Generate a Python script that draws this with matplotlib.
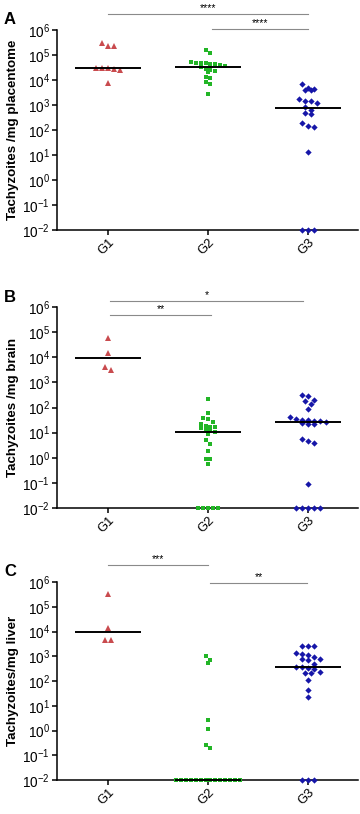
import matplotlib
matplotlib.use("Agg")
import matplotlib.pyplot as plt
import numpy as np
from matplotlib.ticker import NullLocator, LogLocator

plt.rcParams["font.family"] = ["Liberation Sans", "DejaVu Sans"]

groups = ["G1", "G2", "G3"]
floor_value = 1e-2  # undetected samples (0) are drawn on the axis floor

# tachyzoites per mg (0 = not detected)
placentome_g1 = [2.95e5, 2.34e5, 2.29e5, 3.09e4, 3.09e4, 2.95e4, 2.69e4, 2.51e4, 7.4e3]
placentome_g2 = [1.6e5, 1.2e5, 5.1e4, 5.0e4, 4.7e4, 4.6e4, 4.4e4, 4.2e4, 4.0e4, 3.5e4,
                 3.2e4, 2.8e4, 2.5e4, 2.2e4, 2.0e4, 1.3e4, 1.25e4, 8.0e3, 7.0e3, 2.7e3]
placentome_g3 = [6.8e3, 4.9e3, 4.3e3, 4.0e3, 4.0e3, 1.7e3, 1.5e3, 1.5e3, 1.2e3, 850,
                 630, 470, 430, 190, 145, 135, 13, 0, 0, 0]

brain_g1 = [6.0e4, 1.5e4, 4.1e3, 3.1e3]
brain_g2 = [210, 62, 37, 34, 26, 23, 18, 17, 16, 15, 14, 13, 11, 8.5, 5.0, 3.4, 1.9,
            0.93, 0.87, 0.56, 0, 0, 0, 0, 0]
brain_g3 = [310, 295, 190, 180, 140, 91, 43, 34, 33, 32, 30, 29, 27, 25, 23, 23, 5.4,
            4.6, 3.9, 0.091, 0, 0, 0, 0, 0]

liver_g1 = [3.2e5, 1.45e4, 4.7e3, 4.6e3]
liver_g2 = [1000, 680, 540, 2.6, 1.2, 0.25, 0.2] + [0] * 14
liver_g3 = [2500, 2500, 2500, 1300, 1200, 1100, 930, 810, 740, 680, 470, 380, 355, 320,
            300, 230, 215, 205, 105, 42, 23, 0, 0, 0]

# significance comparisons: (group a, group b, label)
placentome_sig = [(0, 2, "****"), (1, 2, "****")]
brain_sig = [(0, 2, "*"), (0, 1, "**")]
liver_sig = [(0, 1, "***"), (1, 2, "**")]

panels = [
    ("A", "Tachyzoites /mg placentome", [placentome_g1, placentome_g2, placentome_g3], placentome_sig),
    ("B", "Tachyzoites /mg brain", [brain_g1, brain_g2, brain_g3], brain_sig),
    ("C", "Tachyzoites/mg liver", [liver_g1, liver_g2, liver_g3], liver_sig),
]

# layout (pixels of the 360x814 figure)
W, H = 360, 814
axes_px = [(30, 230), (307, 508), (582, 780)]  # top, bottom of each axes
letter_y = [20, 297, 571]
sig_y = [[1.08, 1.005], [1.031, 0.96], [1.085, 0.997]]  # axes fraction
sig_x_shift = [[(0, 0), (0.04, 0)], [(0.02, -0.05), (0.02, 0.03)], [(0, 0), (0.02, -0.01)]]

styles = [
    dict(marker="^", color="#C94B4E", ms=4.8, spacing=5.8),
    dict(marker="s", color="#22B526", ms=3.3, spacing=4.9),
    dict(marker="D", color="#1616A8", ms=3.2, spacing=6.0),
]


def row_offsets(ax, values, spacing_px):
    """Group close values into rows and centre each row (GraphPad-style scatter)."""
    vals = np.asarray(values, dtype=float)
    disp = ax.transData.transform(np.column_stack([np.ones_like(vals), vals]))[:, 1]
    order = np.argsort(-disp)
    offsets = np.zeros_like(vals)
    rows, current = [], [order[0]]
    for k in order[1:]:
        if disp[current[0]] - disp[k] < spacing_px * 0.9:
            current.append(k)
        else:
            rows.append(current)
            current = [k]
    rows.append(current)
    for row in rows:
        n = len(row)
        for j, k in enumerate(row):
            offsets[k] = (j - (n - 1) / 2) * spacing_px
    x0 = ax.transData.transform((0, 1))[0]
    x1 = ax.transData.transform((1, 1))[0]
    return offsets / (x1 - x0)


fig = plt.figure(figsize=(W / 100, H / 100), dpi=100)

for p, (letter, ylabel, data, sig) in enumerate(panels):
    top, bottom = axes_px[p]
    ax = fig.add_axes([57 / W, 1 - bottom / H, (358 - 57) / W, (bottom - top) / H])
    ax.set_yscale("log")
    ax.set_ylim(1e-2, 1e6)
    ax.set_xlim(0.49, 3.5)
    ax.yaxis.set_major_locator(LogLocator(base=10, numticks=20))
    ax.yaxis.set_minor_locator(NullLocator())
    for side in ["top", "right"]:
        ax.spines[side].set_visible(False)
    for side in ["left", "bottom"]:
        ax.spines[side].set_linewidth(1.1)
    ax.tick_params(axis="y", length=3.6, width=1.1, labelsize=9.8, pad=1.5)
    ax.tick_params(axis="x", length=3.6, width=1.1, labelsize=9.4, pad=1.0)
    ax.set_xticks([1, 2, 3])
    ax.set_xticklabels(groups, rotation=45, ha="right", rotation_mode="anchor")

    for g, values in enumerate(data):
        st = styles[g]
        vals = np.maximum(np.asarray(values, dtype=float), floor_value)
        xs = g + 1 + row_offsets(ax, vals, st["spacing"])
        ax.plot(xs, vals, linestyle="none", marker=st["marker"], color=st["color"],
                markersize=st["ms"], markeredgewidth=0, clip_on=False, zorder=4)
        med = max(np.median(values), floor_value)
        ax.hlines(med, g + 1 - 0.33, g + 1 + 0.33, color="black", linewidth=1.4, zorder=5,
                  clip_on=False)

    for s, (a, b, label) in enumerate(sig):
        y = sig_y[p][s]
        dx0, dx1 = sig_x_shift[p][s]
        ax.plot([a + 1 + dx0, b + 1 + dx1], [y, y], color="#8A8A8A", linewidth=0.8,
                transform=ax.get_xaxis_transform(), clip_on=False)
        ax.text((a + b + 2 + dx0 + dx1) / 2, y + 0.005, label, ha="center", va="bottom",
                fontsize=7.5, transform=ax.get_xaxis_transform())

    ax.set_ylabel(ylabel, fontsize=9.6, fontweight="bold")
    ax.yaxis.set_label_coords(-0.125, 0.5)
    fig.text(10 / W, 1 - letter_y[p] / H, letter, ha="center", va="center",
             fontsize=12, fontweight="bold")

fig.savefig("out.png", dpi=100)
